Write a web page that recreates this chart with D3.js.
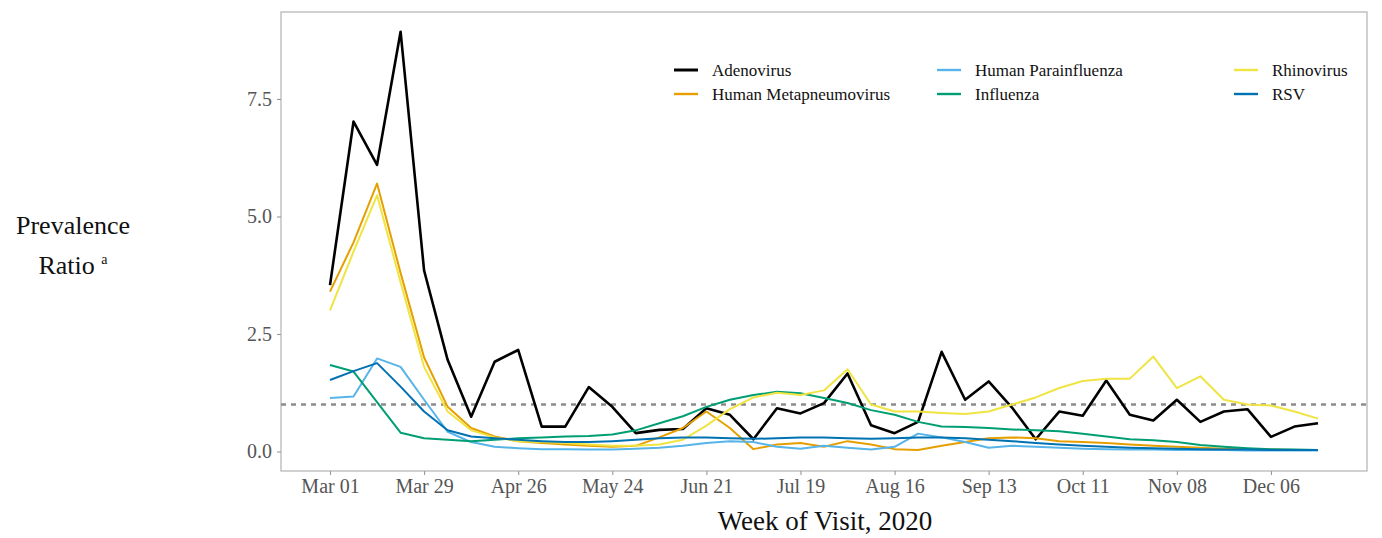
<!DOCTYPE html>
<html>
<head>
<meta charset="utf-8">
<script src="https://cdn.jsdelivr.net/npm/d3@7"></script>
<style>
  html, body { margin: 0; padding: 0; background: #fff; }
  svg { display: block; }
</style>
</head>
<body>
<svg id="chart" width="1382" height="538"></svg>
<script>
// Weekly visit dates (week start), 2020
const weeks = [
  "2020-03-01","2020-03-08","2020-03-15","2020-03-22","2020-03-29",
  "2020-04-05","2020-04-12","2020-04-19","2020-04-26",
  "2020-05-03","2020-05-10","2020-05-17","2020-05-24","2020-05-31",
  "2020-06-07","2020-06-14","2020-06-21","2020-06-28",
  "2020-07-05","2020-07-12","2020-07-19","2020-07-26",
  "2020-08-02","2020-08-09","2020-08-16","2020-08-23","2020-08-30",
  "2020-09-06","2020-09-13","2020-09-20","2020-09-27",
  "2020-10-04","2020-10-11","2020-10-18","2020-10-25",
  "2020-11-01","2020-11-08","2020-11-15","2020-11-22","2020-11-29",
  "2020-12-06","2020-12-13","2020-12-20"
];

const seriesNames = ["Adenovirus", "Human Metapneumovirus", "Human Parainfluenza", "Influenza", "Rhinovirus", "RSV"];
const seriesColors = ["#000000", "#E69F00", "#56B4E9", "#009E73", "#F0E442", "#0072B2"];

const adenovirus = [3.54, 7.02, 6.1, 8.93, 3.85, 1.95, 0.74, 1.91, 2.16, 0.53, 0.53, 1.37, 0.95, 0.39, 0.46,
  0.48, 0.92, 0.78, 0.26, 0.92, 0.81, 1.03, 1.66, 0.56, 0.39, 0.63, 2.12, 1.1, 1.49, 0.93,
  0.26, 0.85, 0.76, 1.51, 0.78, 0.66, 1.1, 0.63, 0.85, 0.9, 0.31, 0.53, 0.6];
const metapneumovirus = [3.4, 4.45, 5.7, 3.8, 2.0, 0.95, 0.5, 0.32, 0.22, 0.18, 0.15, 0.12, 0.1, 0.12, 0.3,
  0.5, 0.85, 0.5, 0.05, 0.15, 0.18, 0.1, 0.22, 0.15, 0.05, 0.03, 0.12, 0.2, 0.28, 0.3,
  0.28, 0.22, 0.2, 0.18, 0.15, 0.12, 0.1, 0.08, 0.06, 0.05, 0.04, 0.03, 0.03];
const parainfluenza = [1.14, 1.17, 1.98, 1.8, 1.1, 0.42, 0.2, 0.1, 0.07, 0.05, 0.05, 0.04, 0.04, 0.06, 0.08,
  0.12, 0.18, 0.22, 0.2, 0.1, 0.06, 0.12, 0.08, 0.04, 0.1, 0.38, 0.3, 0.2, 0.08, 0.12,
  0.1, 0.08, 0.06, 0.05, 0.04, 0.04, 0.03, 0.03, 0.03, 0.02, 0.02, 0.02, 0.02];
const influenza = [1.84, 1.7, 1.05, 0.4, 0.28, 0.25, 0.22, 0.25, 0.28, 0.3, 0.32, 0.33, 0.36, 0.45, 0.6,
  0.75, 0.95, 1.1, 1.2, 1.27, 1.24, 1.14, 1.03, 0.88, 0.78, 0.63, 0.53, 0.52, 0.5, 0.47,
  0.45, 0.43, 0.38, 0.32, 0.26, 0.24, 0.2, 0.14, 0.1, 0.07, 0.05, 0.04, 0.03];
const rhinovirus = [3.0, 4.25, 5.45, 3.6, 1.8, 0.85, 0.45, 0.3, 0.22, 0.2, 0.18, 0.15, 0.12, 0.12, 0.15,
  0.25, 0.55, 0.9, 1.15, 1.25, 1.2, 1.3, 1.75, 1.0, 0.85, 0.85, 0.82, 0.8, 0.85, 1.0,
  1.15, 1.35, 1.5, 1.55, 1.55, 2.02, 1.35, 1.6, 1.1, 1.0, 0.98, 0.85, 0.7];
const rsv = [1.52, 1.71, 1.88, 1.38, 0.85, 0.45, 0.32, 0.28, 0.25, 0.22, 0.2, 0.2, 0.22, 0.25, 0.28,
  0.3, 0.3, 0.28, 0.27, 0.28, 0.3, 0.3, 0.28, 0.27, 0.28, 0.3, 0.3, 0.28, 0.25, 0.22,
  0.18, 0.15, 0.12, 0.1, 0.08, 0.07, 0.06, 0.05, 0.04, 0.04, 0.03, 0.03, 0.03];

const seriesValues = [adenovirus, metapneumovirus, parainfluenza, influenza, rhinovirus, rsv];

const xTickDates = ["2020-03-01","2020-03-29","2020-04-26","2020-05-24","2020-06-21","2020-07-19",
  "2020-08-16","2020-09-13","2020-10-11","2020-11-08","2020-12-06"];
const xTickLabels = ["Mar 01","Mar 29","Apr 26","May 24","Jun 21","Jul 19","Aug 16","Sep 13","Oct 11","Nov 08","Dec 06"];
const yTicks = [0, 2.5, 5, 7.5];
const yTickLabels = ["0.0", "2.5", "5.0", "7.5"];
const referenceValue = 1;

// ---- layout ----
const panel = { left: 281, right: 1367, top: 12, bottom: 471 };
const serif = "'Liberation Serif', 'DejaVu Serif', serif";
const parse = d3.utcParse("%Y-%m-%d");
const dates = weeks.map(parse);

const first = dates[0], last = dates[dates.length - 1];
const span = last - first;
const x = d3.scaleUtc()
  .domain([new Date(+first - span * 0.0496), new Date(+last + span * 0.0496)])
  .range([panel.left, panel.right]);
const y = d3.scaleLinear().domain([-0.415, 9.35]).range([panel.bottom, panel.top]);

const svg = d3.select("#chart");

// panel border
svg.append("rect")
  .attr("x", panel.left).attr("y", panel.top)
  .attr("width", panel.right - panel.left).attr("height", panel.bottom - panel.top)
  .attr("fill", "#fff").attr("stroke", "#b8b8b8").attr("stroke-width", 1.3);

// x axis
const xAxis = d3.axisBottom(x)
  .tickValues(xTickDates.map(parse))
  .tickFormat((d, i) => xTickLabels[i])
  .tickSize(4).tickPadding(4);
const gx = svg.append("g").attr("transform", `translate(0,${panel.bottom})`).call(xAxis);
gx.select(".domain").remove();
gx.selectAll(".tick line").attr("stroke", "#999").attr("stroke-width", 1.1);
gx.selectAll(".tick text").attr("fill", "#555").attr("font-family", serif).attr("font-size", 20);

// y axis
const yAxis = d3.axisLeft(y)
  .tickValues(yTicks)
  .tickFormat((d, i) => yTickLabels[i])
  .tickSize(4).tickPadding(5);
const gy = svg.append("g").attr("transform", `translate(${panel.left},0)`).call(yAxis);
gy.select(".domain").remove();
gy.selectAll(".tick line").attr("stroke", "#999").attr("stroke-width", 1.1);
gy.selectAll(".tick text").attr("fill", "#555").attr("font-family", serif).attr("font-size", 20);

// reference line at ratio = 1
svg.append("line")
  .attr("x1", panel.left).attr("x2", panel.right)
  .attr("y1", y(referenceValue)).attr("y2", y(referenceValue))
  .attr("stroke", "#8c8c8c").attr("stroke-width", 2.6)
  .attr("stroke-dasharray", "5,5");

// series lines
const line = d3.line().x((d, i) => x(dates[i])).y(d => y(d));
const plot = svg.append("g");
seriesValues.forEach((vals, k) => {
  plot.append("path")
    .attr("d", line(vals))
    .attr("fill", "none")
    .attr("stroke", seriesColors[k])
    .attr("stroke-width", k === 0 ? 2.6 : 2)
    .attr("stroke-linejoin", "round");
});

// legend (3 columns x 2 rows)
const legCols = [672, 935, 1232];
const legRows = [70, 94];
const legend = svg.append("g");
seriesNames.forEach((name, k) => {
  const col = Math.floor(k / 2), row = k % 2;
  const g = legend.append("g").attr("transform", `translate(${legCols[col]},${legRows[row]})`);
  g.append("line").attr("x1", 2).attr("x2", 26).attr("y1", 0).attr("y2", 0)
    .attr("stroke", seriesColors[k]).attr("stroke-width", k === 0 ? 3 : 2.4);
  g.append("text").attr("x", 40).attr("y", 0).attr("dy", "0.35em")
    .attr("font-family", serif).attr("font-size", 17).attr("fill", "#111").text(name);
});

// axis titles
svg.append("text")
  .attr("x", 825).attr("y", 530)
  .attr("text-anchor", "middle")
  .attr("font-family", serif).attr("font-size", 27).attr("fill", "#111")
  .text("Week of Visit, 2020");

const yTitle = svg.append("text")
  .attr("text-anchor", "middle")
  .attr("font-family", serif).attr("font-size", 26).attr("fill", "#111");
yTitle.append("tspan").attr("x", 73).attr("y", 234).text("Prevalence");
yTitle.append("tspan").attr("x", 73).attr("y", 274).text("Ratio ");
yTitle.append("tspan").attr("font-size", 14).attr("dy", -10).text("a");
</script>
</body>
</html>
